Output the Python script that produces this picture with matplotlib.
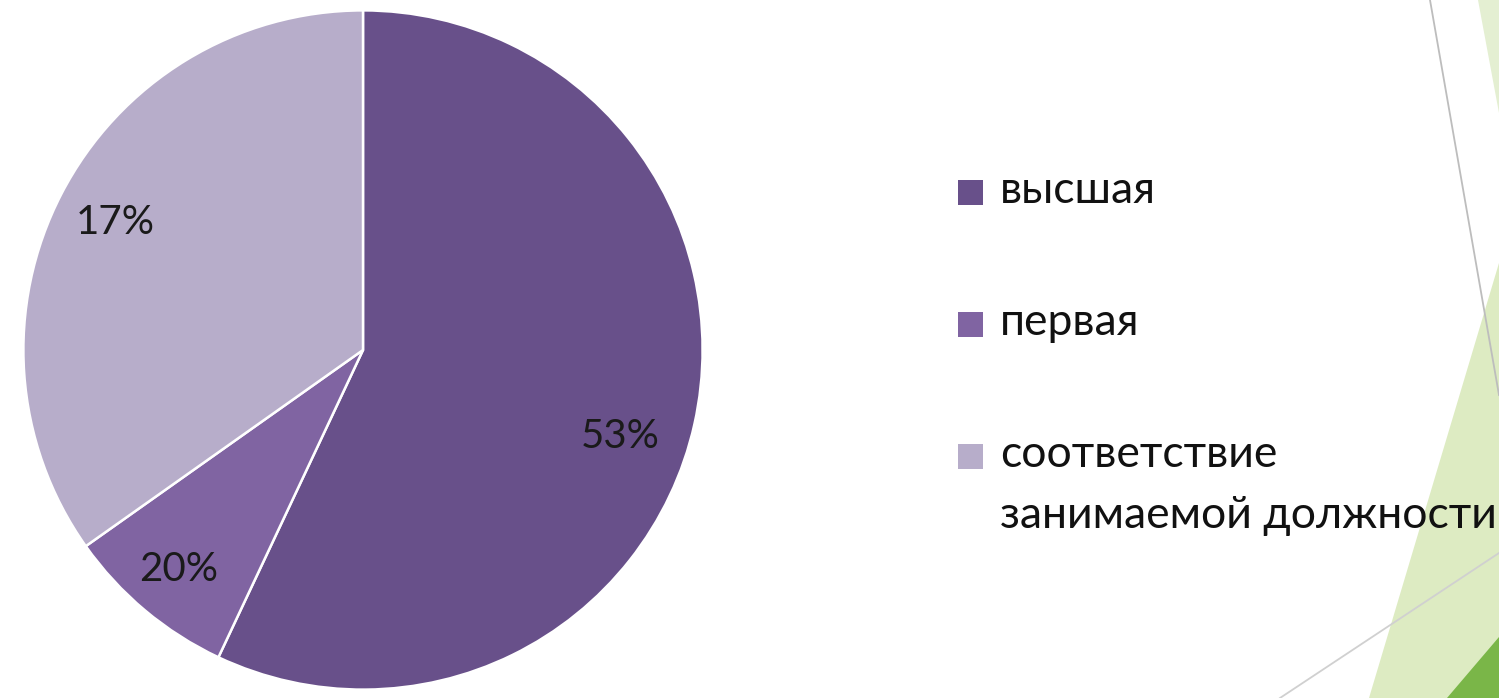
import matplotlib
matplotlib.use("Agg")
import numpy as np
import matplotlib.pyplot as plt
from matplotlib.patches import Polygon, Rectangle

# ---- data ----
categories = ["высшая", "первая", "соответствие\nзанимаемой должности"]
wedge_sizes = [57.0, 8.2, 34.8]          # shares as drawn in the picture
value_labels = ["53%", "20%", "17%"]     # printed labels
colors = ["#68508A", "#8064A2", "#B7ADCA"]

plt.rcParams['font.family'] = ['Lato', 'DejaVu Sans']

W, H = 1499, 698
fig = plt.figure(figsize=(W / 100, H / 100), dpi=100)
fig.patch.set_facecolor("white")

# ---- background decorations (figure pixel coords) ----
bg = fig.add_axes([0, 0, 1, 1])
bg.set_xlim(0, W)
bg.set_ylim(H, 0)
bg.axis("off")
bg.add_patch(Polygon([(1478, 0), (1499, 0), (1499, 113)], closed=True,
                     facecolor="#E4EFD2", edgecolor="none"))
bg.add_patch(Polygon([(1499, 263), (1369, 698), (1499, 698)], closed=True,
                     facecolor="#DDEBC2", edgecolor="none"))
bg.add_patch(Polygon([(1447, 698), (1499, 637), (1499, 698)], closed=True,
                     facecolor="#7AB648", edgecolor="none"))
bg.plot([1430, 1499], [0, 395], color="#BDBDBD", lw=1.3)
bg.plot([1280, 1499], [698, 553], color="#D0D0D0", lw=1.3)

# ---- pie ----
ax = fig.add_axes([20 / W, 5 / H, 686 / W, 686 / H])
wedges, texts, autotexts = ax.pie(
    wedge_sizes, colors=colors, startangle=90, counterclock=False,
    radius=1.0, autopct="%1.0f%%", pctdistance=0.82,
    wedgeprops=dict(edgecolor="white", linewidth=1.8),
    textprops=dict(fontsize=29, color="#1A1A1A"))
for t, lab in zip(autotexts, value_labels):
    t.set_text(lab)
# the big wedge's label sits a little below its mid-angle (best-fit placement)
w0 = wedges[0]
ang = np.deg2rad((w0.theta1 + w0.theta2) / 2 - 6.0)
autotexts[0].set_position((0.80 * np.cos(ang), 0.80 * np.sin(ang)))
w1 = wedges[1]
ang1 = np.deg2rad((w1.theta1 + w1.theta2) / 2)
autotexts[1].set_position((0.845 * np.cos(ang1), 0.845 * np.sin(ang1)))
ax.set_xlim(-1.01, 1.01)
ax.set_ylim(-1.01, 1.01)
ax.set_aspect("equal")
ax.axis("off")

# ---- legend (drawn manually so the marker aligns with the first line) ----
row_base = 203      # baseline of first entry (px from top)
row_step = 132
line_step = 61
sq = 25
y = row_base
for lab, col in zip(categories, colors):
    bg.add_patch(Rectangle((958, y - 11 - sq / 2), sq, sq,
                           facecolor=col, edgecolor="none"))
    lines = lab.split("\n")
    for i, ln in enumerate(lines):
        bg.text(1000, y + i * line_step, ln, fontsize=32, color="#111111",
                ha="left", va="baseline")
    y += row_step

fig.savefig("out.png", dpi=100, facecolor="white")
